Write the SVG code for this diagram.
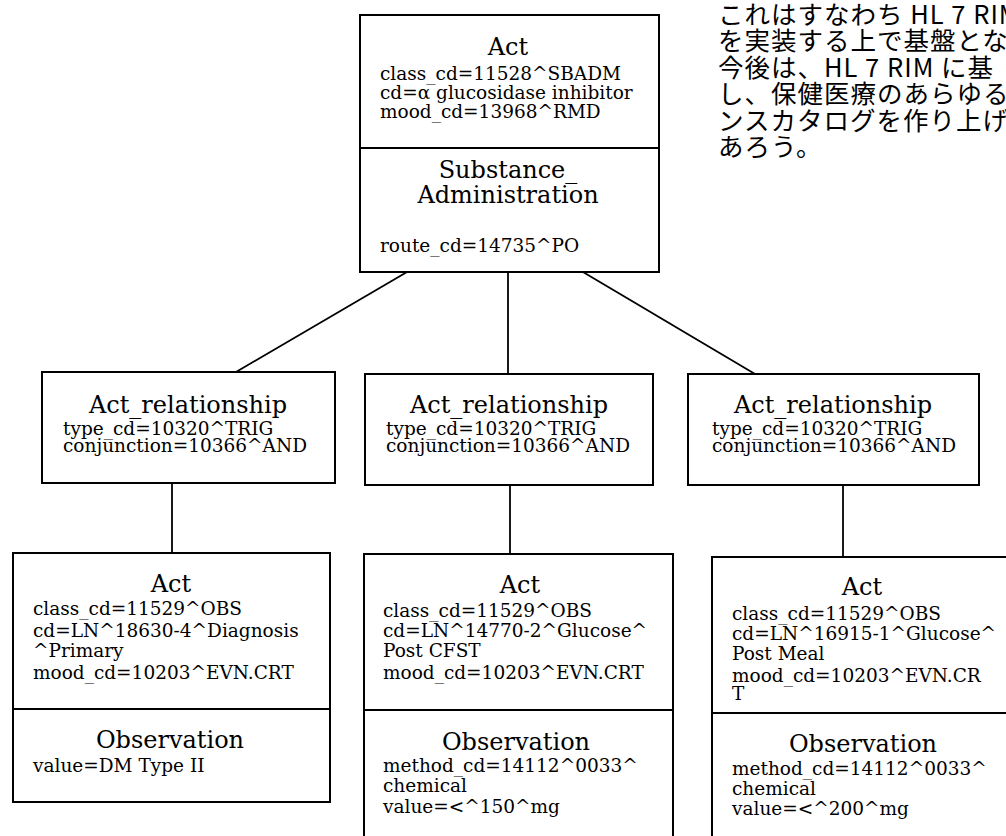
<svg xmlns="http://www.w3.org/2000/svg" width="1006" height="836" viewBox="0 0 1006 836">
<style>
.box{fill:#fff;stroke:#000;stroke-width:2}
.div{stroke:#000;stroke-width:2}
.con{stroke:#000;stroke-width:1.8;fill:none}
.t{font-family:"DejaVu Serif","Liberation Serif",serif;font-size:24px;fill:#000;text-anchor:middle}
.a{font-family:"DejaVu Serif","Liberation Serif",serif;font-size:18.5px;fill:#000}
.jp{font-family:"Noto Sans CJK JP","Noto Sans",sans-serif;font-size:25.5px;fill:#000;letter-spacing:1px}
</style>
<rect width="1006" height="836" fill="#fff"/>
<g id="connectors">
<line class="con" x1="407" y1="272" x2="236" y2="372"/>
<line class="con" x1="508" y1="272" x2="508" y2="374"/>
<line class="con" x1="583" y1="272" x2="755" y2="374"/>
<line class="con" x1="172" y1="483" x2="172" y2="553"/>
<line class="con" x1="510" y1="485" x2="510" y2="554"/>
<line class="con" x1="843" y1="485" x2="843" y2="557"/>
</g>
<g id="note">
<text class="jp" x="718" y="24">これはすなわち HL 7 RIM</text>
<text class="jp" x="718" y="50.4">を実装する上で基盤とな</text>
<text class="jp" x="718" y="76.8">今後は、HL 7 RIM に基</text>
<text class="jp" x="718" y="103.2">し、保健医療のあらゆる</text>
<text class="jp" x="718" y="129.6">ンスカタログを作り上げ</text>
<text class="jp" x="718" y="156">あろう。</text>
</g>
<g id="act-substance-administration">
<rect class="box" x="360" y="15" width="299" height="257"/>
<line class="div" x1="360" y1="148" x2="659" y2="148"/>
<text class="t" x="508" y="55">Act</text>
<text class="a" x="380" y="80">class_cd=11528^SBADM</text>
<text class="a" x="380" y="99">cd=α glucosidase inhibitor</text>
<text class="a" x="380" y="118">mood_cd=13968^RMD</text>
<text class="t" x="508" y="178">Substance_</text>
<text class="t" x="508" y="203">Administration</text>
<text class="a" x="380" y="252">route_cd=14735^PO</text>
</g>
<g id="act-relationship-1">
<rect class="box" x="42" y="372" width="293" height="111"/>
<text class="t" x="188" y="413">Act_relationship</text>
<text class="a" x="63" y="435">type_cd=10320^TRIG</text>
<text class="a" x="63" y="452">conjunction=10366^AND</text>
</g>
<g id="act-relationship-2">
<rect class="box" x="365" y="374" width="288" height="111"/>
<text class="t" x="509" y="413">Act_relationship</text>
<text class="a" x="386" y="435">type_cd=10320^TRIG</text>
<text class="a" x="386" y="452">conjunction=10366^AND</text>
</g>
<g id="act-relationship-3">
<rect class="box" x="688" y="374" width="291" height="111"/>
<text class="t" x="833" y="413">Act_relationship</text>
<text class="a" x="712" y="435">type_cd=10320^TRIG</text>
<text class="a" x="712" y="452">conjunction=10366^AND</text>
</g>
<g id="observation-diagnosis">
<rect class="box" x="13" y="553" width="317" height="249"/>
<line class="div" x1="13" y1="709" x2="330" y2="709"/>
<text class="t" x="171" y="592">Act</text>
<text class="a" x="33" y="615">class_cd=11529^OBS</text>
<text class="a" x="33" y="637">cd=LN^18630-4^Diagnosis</text>
<text class="a" x="33" y="657">^Primary</text>
<text class="a" x="33" y="679">mood_cd=10203^EVN.CRT</text>
<text class="t" x="170" y="748">Observation</text>
<text class="a" x="33" y="772">value=DM Type II</text>
</g>
<g id="observation-glucose-cfst">
<rect class="box" x="364" y="554" width="309" height="290"/>
<line class="div" x1="364" y1="710" x2="673" y2="710"/>
<text class="t" x="520" y="593">Act</text>
<text class="a" x="383" y="617">class_cd=11529^OBS</text>
<text class="a" x="383" y="637">cd=LN^14770-2^Glucose^</text>
<text class="a" x="383" y="657">Post CFST</text>
<text class="a" x="383" y="679">mood_cd=10203^EVN.CRT</text>
<text class="t" x="516" y="750">Observation</text>
<text class="a" x="383" y="772">method_cd=14112^0033^</text>
<text class="a" x="383" y="792">chemical</text>
<text class="a" x="383" y="813">value=&lt;^150^mg</text>
</g>
<g id="observation-glucose-meal">
<rect class="box" x="712" y="557" width="300" height="290"/>
<line class="div" x1="712" y1="713" x2="1012" y2="713"/>
<text class="t" x="862" y="595">Act</text>
<text class="a" x="732" y="620">class_cd=11529^OBS</text>
<text class="a" x="732" y="640">cd=LN^16915-1^Glucose^</text>
<text class="a" x="732" y="660">Post Meal</text>
<text class="a" x="732" y="682">mood_cd=10203^EVN.CR</text>
<text class="a" x="732" y="700">T</text>
<text class="t" x="863" y="752">Observation</text>
<text class="a" x="732" y="775">method_cd=14112^0033^</text>
<text class="a" x="732" y="795">chemical</text>
<text class="a" x="732" y="815">value=&lt;^200^mg</text>
</g>
</svg>
